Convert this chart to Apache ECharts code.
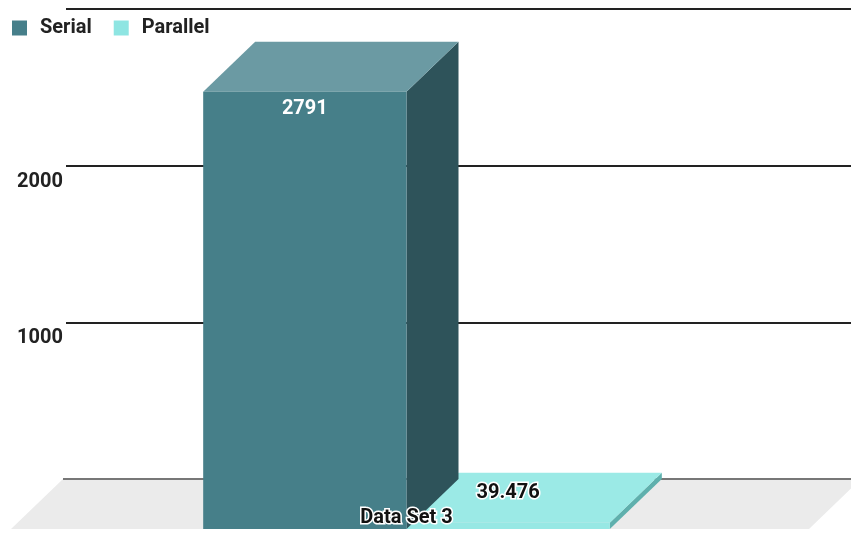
<!DOCTYPE html>
<html><head><meta charset="utf-8">
<script src="https://cdn.jsdelivr.net/npm/echarts@6/dist/echarts.min.js"></script>
<style>html,body{margin:0;padding:0;background:#fff}#c{width:851px;height:533px}</style>
</head><body><div id="c"></div>
<script>
const categories = ['Data Set 3'];
const seriesNames = ['Serial', 'Parallel'];
const serialValues = [2791];
const parallelValues = [39.476];
const yTickLabels = [1000, 2000];

const FONT = 'Roboto, "Noto Sans", sans-serif';
const DX = -52, DY = 50;
const BAR_FRAC = 0.259;
const palettes = [
  {front:'#467f89', top:'#6b9aa3', side:'#2e535a', label:'#ffffff', border:null, legend:'#467f8a'},
  {front:'#97e8e4', top:'#9beae6', side:'#5fb0ad', label:'#111111', border:'#ffffff', legend:'#8ee5e2'}
];

function barRender(si){
  return function(params, api){
    const cat = api.value(0), val = api.value(1);
    const b0 = api.coord([cat, 0]);
    const b1 = api.coord([cat, val]);
    const w = api.size([1, 0])[0] * BAR_FRAC;
    const xl = si === 0 ? b0[0] - w : b0[0];
    const xr = xl + w;
    const yb = b0[1], yt = b1[1];
    const fxl = xl + DX, fxr = xr + DX, fyt = yt + DY, fyb = yb + DY;
    const p = palettes[si];
    const h = fyb - fyt;
    const lx = (fxl + fxr) / 2;
    const ly = h > 40 ? fyt + 17 : fyt - 30;
    const txtStyle = {
      text: String(val), x: lx, y: ly, fill: p.label,
      fontSize: 20, fontWeight: 'bold', fontFamily: FONT,
      align: 'center', verticalAlign: 'middle'
    };
    if (p.border) { txtStyle.stroke = p.border; txtStyle.lineWidth = 3; }
    return {
      type: 'group',
      children: [
        {type:'polygon', shape:{points:[[fxr,fyt],[xr,yt],[xr,yb],[fxr,fyb]]}, style:{fill:p.side}},
        {type:'polygon', shape:{points:[[fxl,fyt],[xl,yt],[xr,yt],[fxr,fyt]]}, style:{fill:p.top}},
        {type:'rect', shape:{x:fxl, y:fyt, width:w, height:h}, style:{fill:p.front}},
        {type:'text', style: txtStyle, z2: 10}
      ]
    };
  };
}

function floorRender(params, api){
  const cs = params.coordSys;
  const y0 = api.coord([0, 0])[1];
  const x0 = cs.x - 3, x1 = cs.x + cs.width + 10;
  return {
    type: 'group',
    children: [
      {type:'polygon', shape:{points:[[x0,y0],[x1,y0],[x1+DX,y0+DY],[x0+DX,y0+DY]]}, style:{fill:'#ebebeb'}},
      {type:'line', shape:{x1:x0, y1:y0, x2:cs.x+cs.width, y2:y0}, style:{stroke:'#777777', lineWidth:2}}
    ]
  };
}

const chart = echarts.init(document.getElementById('c'), null, {renderer:'canvas'});
chart.setOption({
  animation: false,
  backgroundColor: '#ffffff',
  grid: {left: 66, right: 0, top: 9, bottom: 54, containLabel: false},
  legend: {
    data: seriesNames, left: 7, top: 13, icon: 'rect',
    itemWidth: 15, itemHeight: 15, itemGap: 22,
    textStyle: {fontSize: 20, fontWeight: 'bold', color: '#222', fontFamily: FONT, padding: [0,0,0,8]}
  },
  xAxis: {
    type: 'category', data: categories, z: 10,
    axisLine: {show: false}, axisTick: {show: false},
    axisLabel: {
      fontSize: 20, fontWeight: 'bold', color: '#111', fontFamily: FONT,
      textBorderColor: '#fff', textBorderWidth: 3, margin: 29, padding: [0,104,0,0]
    }
  },
  yAxis: {
    type: 'value', min: 0, max: 3000, interval: 1000,
    axisLine: {show: false}, axisTick: {show: false},
    splitLine: {lineStyle: {color: '#222', width: 2}},
    axisLabel: {
      formatter: v => yTickLabels.includes(v) ? String(v) : '',
      fontSize: 20, fontWeight: 'bold', color: '#222', fontFamily: FONT,
      margin: 3, verticalAlign: 'top', lineHeight: 32
    }
  },
  series: [
    {name:'floor', type:'custom', renderItem: floorRender, data: categories.map((c,i)=>[i,0]), z:1, silent:true, encode:{x:0,y:1}},
    {name: seriesNames[1], type:'custom', renderItem: barRender(1), itemStyle:{color: palettes[1].legend},
     data: parallelValues.map((v,i)=>[i,v]), encode:{x:0,y:1}, z:2},
    {name: seriesNames[0], type:'custom', renderItem: barRender(0), itemStyle:{color: palettes[0].legend},
     data: serialValues.map((v,i)=>[i,v]), encode:{x:0,y:1}, z:3}
  ]
});
</script></body></html>
